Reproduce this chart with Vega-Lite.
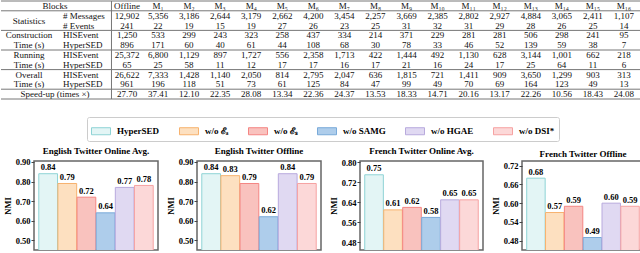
{
  "$schema": "https://vega.github.io/schema/vega-lite/v6.json",
  "padding": {"left": 0, "top": 0, "right": 0, "bottom": 0},
  "background": "white",
  "config": {
    "font": "Liberation Serif",
    "view": {"stroke": null},
    "text": {"font": "Liberation Serif", "fontSize": 9, "color": "#111"},
    "axis": {"labelFont": "Liberation Serif", "labelFontWeight": "bold", "labelFontSize": 8.5, "labelColor": "#000", "tickSize": 3, "tickColor": "#444", "domain": false, "grid": false, "labelPadding": 1, "minExtent": 0, "titleFont": "Liberation Serif", "titleFontSize": 8.5, "titleFontWeight": "bold", "titleColor": "#000", "titlePadding": 3},
    "title": {"font": "Liberation Serif", "fontSize": 9, "fontWeight": "bold", "color": "#000", "offset": 2},
    "legend": {"labelFont": "Liberation Serif", "labelFontWeight": "bold", "labelFontSize": 9, "labelColor": "#000", "strokeColor": "#cccccc", "padding": 4, "cornerRadius": 2, "columnPadding": 17, "labelOffset": 6, "symbolStrokeWidth": 1, "offset": 5, "layout": {"top": {"anchor": "middle"}}}
  },
  "datasets": {
    "cells": [
      {"r": 0, "Offline": "Offline", "M1": "M₁", "M2": "M₂", "M3": "M₃", "M4": "M₄", "M5": "M₅", "M6": "M₆", "M7": "M₇", "M8": "M₈", "M9": "M₉", "M10": "M₁₀", "M11": "M₁₁", "M12": "M₁₂", "M13": "M₁₃", "M14": "M₁₄", "M15": "M₁₅", "M16": "M₁₆"},
      {"r": 1, "Offline": "12,902", "M1": "5,356", "M2": "3,186", "M3": "2,644", "M4": "3,179", "M5": "2,662", "M6": "4,200", "M7": "3,454", "M8": "2,257", "M9": "3,669", "M10": "2,385", "M11": "2,802", "M12": "2,927", "M13": "4,884", "M14": "3,065", "M15": "2,411", "M16": "1,107"},
      {"r": 2, "Offline": "241", "M1": "22", "M2": "19", "M3": "15", "M4": "19", "M5": "27", "M6": "26", "M7": "23", "M8": "25", "M9": "31", "M10": "32", "M11": "31", "M12": "29", "M13": "28", "M14": "26", "M15": "25", "M16": "14"},
      {"r": 3, "Offline": "1,250", "M1": "533", "M2": "299", "M3": "243", "M4": "323", "M5": "258", "M6": "437", "M7": "334", "M8": "214", "M9": "371", "M10": "229", "M11": "281", "M12": "281", "M13": "506", "M14": "298", "M15": "241", "M16": "95"},
      {"r": 4, "Offline": "896", "M1": "171", "M2": "60", "M3": "40", "M4": "61", "M5": "44", "M6": "108", "M7": "68", "M8": "30", "M9": "78", "M10": "33", "M11": "46", "M12": "52", "M13": "139", "M14": "59", "M15": "38", "M16": "7"},
      {"r": 5, "Offline": "25,372", "M1": "6,800", "M2": "1,129", "M3": "897", "M4": "1,727", "M5": "556", "M6": "2,358", "M7": "1,713", "M8": "422", "M9": "1,444", "M10": "492", "M11": "1,130", "M12": "628", "M13": "3,144", "M14": "1,001", "M15": "662", "M16": "218"},
      {"r": 6, "Offline": "65", "M1": "25", "M2": "58", "M3": "11", "M4": "12", "M5": "17", "M6": "17", "M7": "16", "M8": "17", "M9": "21", "M10": "16", "M11": "24", "M12": "17", "M13": "25", "M14": "64", "M15": "11", "M16": "6"},
      {"r": 7, "Offline": "26,622", "M1": "7,333", "M2": "1,428", "M3": "1,140", "M4": "2,050", "M5": "814", "M6": "2,795", "M7": "2,047", "M8": "636", "M9": "1,815", "M10": "721", "M11": "1,411", "M12": "909", "M13": "3,650", "M14": "1,299", "M15": "903", "M16": "313"},
      {"r": 8, "Offline": "961", "M1": "196", "M2": "118", "M3": "51", "M4": "73", "M5": "61", "M6": "125", "M7": "84", "M8": "47", "M9": "99", "M10": "49", "M11": "70", "M12": "69", "M13": "164", "M14": "123", "M15": "49", "M16": "13"},
      {"r": 9, "Offline": "27.70", "M1": "37.41", "M2": "12.10", "M3": "22.35", "M4": "28.08", "M5": "13.34", "M6": "22.36", "M7": "24.37", "M8": "13.53", "M9": "18.33", "M10": "14.71", "M11": "20.16", "M12": "13.17", "M13": "22.26", "M14": "10.56", "M15": "18.43", "M16": "24.08"}
    ],
    "labels": [
      {"r": 0, "k": "span", "c": "L1", "t": "Blocks"},
      {"r": 1, "k": "mid", "c": "L0", "t": "Statistics"},
      {"r": 1, "k": "s", "c": "L1", "t": "# Messages"},
      {"r": 2, "k": "s", "c": "L1", "t": "# Events"},
      {"r": 3, "k": "g", "c": "L0", "t": "Construction"},
      {"r": 4, "k": "g", "c": "L0", "t": "Time (s)"},
      {"r": 3, "k": "s", "c": "L1", "t": "HISEvent"},
      {"r": 4, "k": "s", "c": "L1", "t": "HyperSED"},
      {"r": 5, "k": "g", "c": "L0", "t": "Running"},
      {"r": 6, "k": "g", "c": "L0", "t": "Time (s)"},
      {"r": 5, "k": "s", "c": "L1", "t": "HISEvent"},
      {"r": 6, "k": "s", "c": "L1", "t": "HyperSED"},
      {"r": 7, "k": "g", "c": "L0", "t": "Overall"},
      {"r": 8, "k": "g", "c": "L0", "t": "Time (s)"},
      {"r": 7, "k": "s", "c": "L1", "t": "HISEvent"},
      {"r": 8, "k": "s", "c": "L1", "t": "HyperSED"},
      {"r": 9, "k": "span", "c": "L1", "t": "Speed-up (times ×)"}
    ],
    "nmi": [
      {"panel": "EO", "variant": "HyperSED", "nmi": 0.84},
      {"panel": "EO", "variant": "w/o ℰₐ", "nmi": 0.79},
      {"panel": "EO", "variant": "w/o ℰₛ", "nmi": 0.72},
      {"panel": "EO", "variant": "w/o SAMG", "nmi": 0.64},
      {"panel": "EO", "variant": "w/o HGAE", "nmi": 0.77},
      {"panel": "EO", "variant": "w/o DSI*", "nmi": 0.78},
      {"panel": "EF", "variant": "HyperSED", "nmi": 0.84},
      {"panel": "EF", "variant": "w/o ℰₐ", "nmi": 0.83},
      {"panel": "EF", "variant": "w/o ℰₛ", "nmi": 0.79},
      {"panel": "EF", "variant": "w/o SAMG", "nmi": 0.62},
      {"panel": "EF", "variant": "w/o HGAE", "nmi": 0.84},
      {"panel": "EF", "variant": "w/o DSI*", "nmi": 0.79},
      {"panel": "FO", "variant": "HyperSED", "nmi": 0.75},
      {"panel": "FO", "variant": "w/o ℰₐ", "nmi": 0.61},
      {"panel": "FO", "variant": "w/o ℰₛ", "nmi": 0.62},
      {"panel": "FO", "variant": "w/o SAMG", "nmi": 0.58},
      {"panel": "FO", "variant": "w/o HGAE", "nmi": 0.65},
      {"panel": "FO", "variant": "w/o DSI*", "nmi": 0.65},
      {"panel": "FF", "variant": "HyperSED", "nmi": 0.68},
      {"panel": "FF", "variant": "w/o ℰₐ", "nmi": 0.57},
      {"panel": "FF", "variant": "w/o ℰₛ", "nmi": 0.59},
      {"panel": "FF", "variant": "w/o SAMG", "nmi": 0.49},
      {"panel": "FF", "variant": "w/o HGAE", "nmi": 0.60},
      {"panel": "FF", "variant": "w/o DSI*", "nmi": 0.59}
    ]
  },
  "spacing": 16,
  "resolve": {"scale": {"fill": "independent", "stroke": "independent"}, "legend": {"fill": "independent", "stroke": "independent"}},
  "vconcat": [
    {
      "width": 640, "height": 98,
      "encoding": {
        "y": {"field": "r", "type": "ordinal", "scale": {"type": "band", "domain": [0,1,2,3,4,5,6,7,8,9], "paddingInner": 0, "paddingOuter": 0}, "axis": null}
      },
      "layer": [
        {
          "data": {"name": "cells"},
          "transform": [{"fold": ["Offline","M1","M2","M3","M4","M5","M6","M7","M8","M9","M10","M11","M12","M13","M14","M15","M16"], "as": ["col", "val"]}],
          "mark": {"type": "text", "align": "center", "baseline": "middle"},
          "encoding": {
            "x": {"field": "col", "type": "nominal", "scale": {"type": "band", "domain": ["L0","L1","L2","Offline","M1","M2","M3","M4","M5","M6","M7","M8","M9","M10","M11","M12","M13","M14","M15","M16"], "paddingInner": 0, "paddingOuter": 0.3026, "align": 0.92}, "axis": null},
            "text": {"field": "val"}
          }
        },
        {
          "data": {"name": "labels"},
          "transform": [{"filter": "datum.k == 'g'"}],
          "mark": {"type": "text", "align": "center", "baseline": "middle"},
          "encoding": {
            "x": {"field": "c", "type": "nominal", "bandPosition": 0.345, "scale": {"type": "band"}, "axis": null},
            "text": {"field": "t"}
          }
        },
        {
          "data": {"name": "labels"},
          "transform": [{"filter": "datum.k == 's'"}],
          "mark": {"type": "text", "align": "left", "baseline": "middle"},
          "encoding": {
            "x": {"field": "c", "type": "nominal", "bandPosition": 0.44, "scale": {"type": "band"}, "axis": null},
            "text": {"field": "t"}
          }
        },
        {
          "data": {"name": "labels"},
          "transform": [{"filter": "datum.k == 'span'"}],
          "mark": {"type": "text", "align": "center", "baseline": "middle"},
          "encoding": {
            "x": {"field": "c", "type": "nominal", "bandPosition": 0.18, "scale": {"type": "band"}, "axis": null},
            "text": {"field": "t"}
          }
        },
        {
          "data": {"name": "labels"},
          "transform": [{"filter": "datum.k == 'mid'"}],
          "mark": {"type": "text", "align": "center", "baseline": "middle"},
          "encoding": {
            "x": {"field": "c", "type": "nominal", "bandPosition": 0.345, "scale": {"type": "band"}, "axis": null},
            "y": {"field": "r", "type": "ordinal", "bandPosition": 1, "scale": {"type": "band"}, "axis": null},
            "text": {"field": "t"}
          }
        },
        {
          "data": {"values": [{"r": 0}, {"r": 1}, {"r": 3}, {"r": 5}, {"r": 7}, {"r": 9}]},
          "mark": {"type": "rule", "color": "#777", "strokeWidth": 1},
          "encoding": {"y": {"field": "r", "type": "ordinal", "bandPosition": 0, "scale": {"type": "band"}, "axis": null}}
        },
        {
          "data": {"values": [{"r": 9}]},
          "mark": {"type": "rule", "color": "#777", "strokeWidth": 1},
          "encoding": {"y": {"field": "r", "type": "ordinal", "bandPosition": 1, "scale": {"type": "band"}, "axis": null}}
        },
        {
          "data": {"values": [{"col": "Offline"}]},
          "mark": {"type": "rule", "color": "#777", "strokeWidth": 1},
          "encoding": {"x": {"field": "col", "type": "nominal", "bandPosition": 0, "scale": {"type": "band"}, "axis": null}, "y": null}
        }
      ]
    },
    {
      "spacing": 0,
      "hconcat": [
        {"width": 1, "height": 89, "data": {"values": []}, "mark": "point"},
        {
          "spacing": 6,
          "hconcat": [
            {
              "width": 124, "height": 89,
              "title": "English Twitter Online Avg.",
              "view": {"stroke": "#666", "strokeWidth": 1.5},
              "data": {"name": "nmi"},
              "transform": [{"filter": "datum.panel == 'EO'"}],
              "encoding": {
                "x": {"field": "variant", "type": "nominal", "sort": ["HyperSED","w/o ℰₐ","w/o ℰₛ","w/o SAMG","w/o HGAE","w/o DSI*"], "scale": {"paddingInner": 0.02, "paddingOuter": 0.25}, "axis": null},
                "y": {"field": "nmi", "type": "quantitative", "scale": {"domain": [0.45, 0.905], "nice": false, "zero": false}, "axis": {"values": [0.5, 0.6, 0.7, 0.8, 0.9], "format": ".2f", "title": "NMI"}}
              },
              "layer": [
                {"mark": {"type": "bar", "strokeWidth": 1, "clip": true},
                 "encoding": {
                   "fill": {"field": "variant", "type": "nominal", "sort": ["HyperSED","w/o ℰₐ","w/o ℰₛ","w/o SAMG","w/o HGAE","w/o DSI*"], "scale": {"domain": ["HyperSED","w/o ℰₐ","w/o ℰₛ","w/o SAMG","w/o HGAE","w/o DSI*"], "range": ["#e3f5f5","#fde0c0","#f9c2be","#aecdeb","#e0d9f2","#fcd8d8"]}, "legend": {"orient": "top", "direction": "horizontal", "title": null, "columns": 6, "symbolType": "M-1,-0.37L1,-0.37L1,0.37L-1,0.37Z", "symbolSize": 361}},
                   "stroke": {"field": "variant", "type": "nominal", "scale": {"domain": ["HyperSED","w/o ℰₐ","w/o ℰₛ","w/o SAMG","w/o HGAE","w/o DSI*"], "range": ["#8ed3d5","#f7b26e","#f48583","#79aad9","#b8aadd","#f6a2a2"]}, "legend": {"orient": "top", "direction": "horizontal", "title": null, "columns": 6, "symbolType": "M-1,-0.37L1,-0.37L1,0.37L-1,0.37Z", "symbolSize": 361}}
                 }},
                {"mark": {"type": "text", "baseline": "bottom", "dy": -1.5, "fontWeight": "bold", "fontSize": 8.5, "color": "#000"},
                 "encoding": {"text": {"field": "nmi", "type": "quantitative", "format": ".2f"}}}
              ]
            },
            {
              "width": 124, "height": 89,
              "title": "English Twitter Offline",
              "view": {"stroke": "#666", "strokeWidth": 1.5},
              "data": {"name": "nmi"},
              "transform": [{"filter": "datum.panel == 'EF'"}],
              "encoding": {
                "x": {"field": "variant", "type": "nominal", "sort": ["HyperSED","w/o ℰₐ","w/o ℰₛ","w/o SAMG","w/o HGAE","w/o DSI*"], "scale": {"paddingInner": 0.02, "paddingOuter": 0.25}, "axis": null},
                "y": {"field": "nmi", "type": "quantitative", "scale": {"domain": [0.45, 0.905], "nice": false, "zero": false}, "axis": {"values": [0.5, 0.6, 0.7, 0.8, 0.9], "format": ".2f", "title": "NMI"}}
              },
              "layer": [
                {"mark": {"type": "bar", "strokeWidth": 1, "clip": true},
                 "encoding": {
                   "fill": {"field": "variant", "type": "nominal", "scale": {"domain": ["HyperSED","w/o ℰₐ","w/o ℰₛ","w/o SAMG","w/o HGAE","w/o DSI*"], "range": ["#e3f5f5","#fde0c0","#f9c2be","#aecdeb","#e0d9f2","#fcd8d8"]}},
                   "stroke": {"field": "variant", "type": "nominal", "scale": {"domain": ["HyperSED","w/o ℰₐ","w/o ℰₛ","w/o SAMG","w/o HGAE","w/o DSI*"], "range": ["#8ed3d5","#f7b26e","#f48583","#79aad9","#b8aadd","#f6a2a2"]}}
                 }},
                {"mark": {"type": "text", "baseline": "bottom", "dy": -1.5, "fontWeight": "bold", "fontSize": 8.5, "color": "#000"},
                 "encoding": {"text": {"field": "nmi", "type": "quantitative", "format": ".2f"}}}
              ]
            },
            {
              "width": 123, "height": 89,
              "title": "French Twitter Online Avg.",
              "view": {"stroke": "#666", "strokeWidth": 1.5},
              "data": {"name": "nmi"},
              "transform": [{"filter": "datum.panel == 'FO'"}],
              "encoding": {
                "x": {"field": "variant", "type": "nominal", "sort": ["HyperSED","w/o ℰₐ","w/o ℰₛ","w/o SAMG","w/o HGAE","w/o DSI*"], "scale": {"paddingInner": 0.02, "paddingOuter": 0.25}, "axis": null},
                "y": {"field": "nmi", "type": "quantitative", "scale": {"domain": [0.45, 0.805], "nice": false, "zero": false}, "axis": {"values": [0.48, 0.56, 0.64, 0.72, 0.8], "format": ".2f", "title": "NMI"}}
              },
              "layer": [
                {"mark": {"type": "bar", "strokeWidth": 1, "clip": true},
                 "encoding": {
                   "fill": {"field": "variant", "type": "nominal", "scale": {"domain": ["HyperSED","w/o ℰₐ","w/o ℰₛ","w/o SAMG","w/o HGAE","w/o DSI*"], "range": ["#e3f5f5","#fde0c0","#f9c2be","#aecdeb","#e0d9f2","#fcd8d8"]}},
                   "stroke": {"field": "variant", "type": "nominal", "scale": {"domain": ["HyperSED","w/o ℰₐ","w/o ℰₛ","w/o SAMG","w/o HGAE","w/o DSI*"], "range": ["#8ed3d5","#f7b26e","#f48583","#79aad9","#b8aadd","#f6a2a2"]}}
                 }},
                {"mark": {"type": "text", "baseline": "bottom", "dy": -1.5, "fontWeight": "bold", "fontSize": 8.5, "color": "#000"},
                 "encoding": {"text": {"field": "nmi", "type": "quantitative", "format": ".2f"}}}
              ]
            },
            {
              "width": 122, "height": 89,
              "title": "French Twitter Offline",
              "view": {"stroke": "#666", "strokeWidth": 1.5},
              "data": {"name": "nmi"},
              "transform": [{"filter": "datum.panel == 'FF'"}],
              "encoding": {
                "x": {"field": "variant", "type": "nominal", "sort": ["HyperSED","w/o ℰₐ","w/o ℰₛ","w/o SAMG","w/o HGAE","w/o DSI*"], "scale": {"paddingInner": 0.02, "paddingOuter": 0.25}, "axis": null},
                "y": {"field": "nmi", "type": "quantitative", "scale": {"domain": [0.45, 0.735], "nice": false, "zero": false}, "axis": {"values": [0.48, 0.54, 0.6, 0.66, 0.72], "format": ".2f", "title": "NMI"}}
              },
              "layer": [
                {"mark": {"type": "bar", "strokeWidth": 1, "clip": true},
                 "encoding": {
                   "fill": {"field": "variant", "type": "nominal", "scale": {"domain": ["HyperSED","w/o ℰₐ","w/o ℰₛ","w/o SAMG","w/o HGAE","w/o DSI*"], "range": ["#e3f5f5","#fde0c0","#f9c2be","#aecdeb","#e0d9f2","#fcd8d8"]}},
                   "stroke": {"field": "variant", "type": "nominal", "scale": {"domain": ["HyperSED","w/o ℰₐ","w/o ℰₛ","w/o SAMG","w/o HGAE","w/o DSI*"], "range": ["#8ed3d5","#f7b26e","#f48583","#79aad9","#b8aadd","#f6a2a2"]}}
                 }},
                {"mark": {"type": "text", "baseline": "bottom", "dy": -1.5, "fontWeight": "bold", "fontSize": 8.5, "color": "#000"},
                 "encoding": {"text": {"field": "nmi", "type": "quantitative", "format": ".2f"}}}
              ]
            }
          ]
        }
      ]
    }
  ]
}
